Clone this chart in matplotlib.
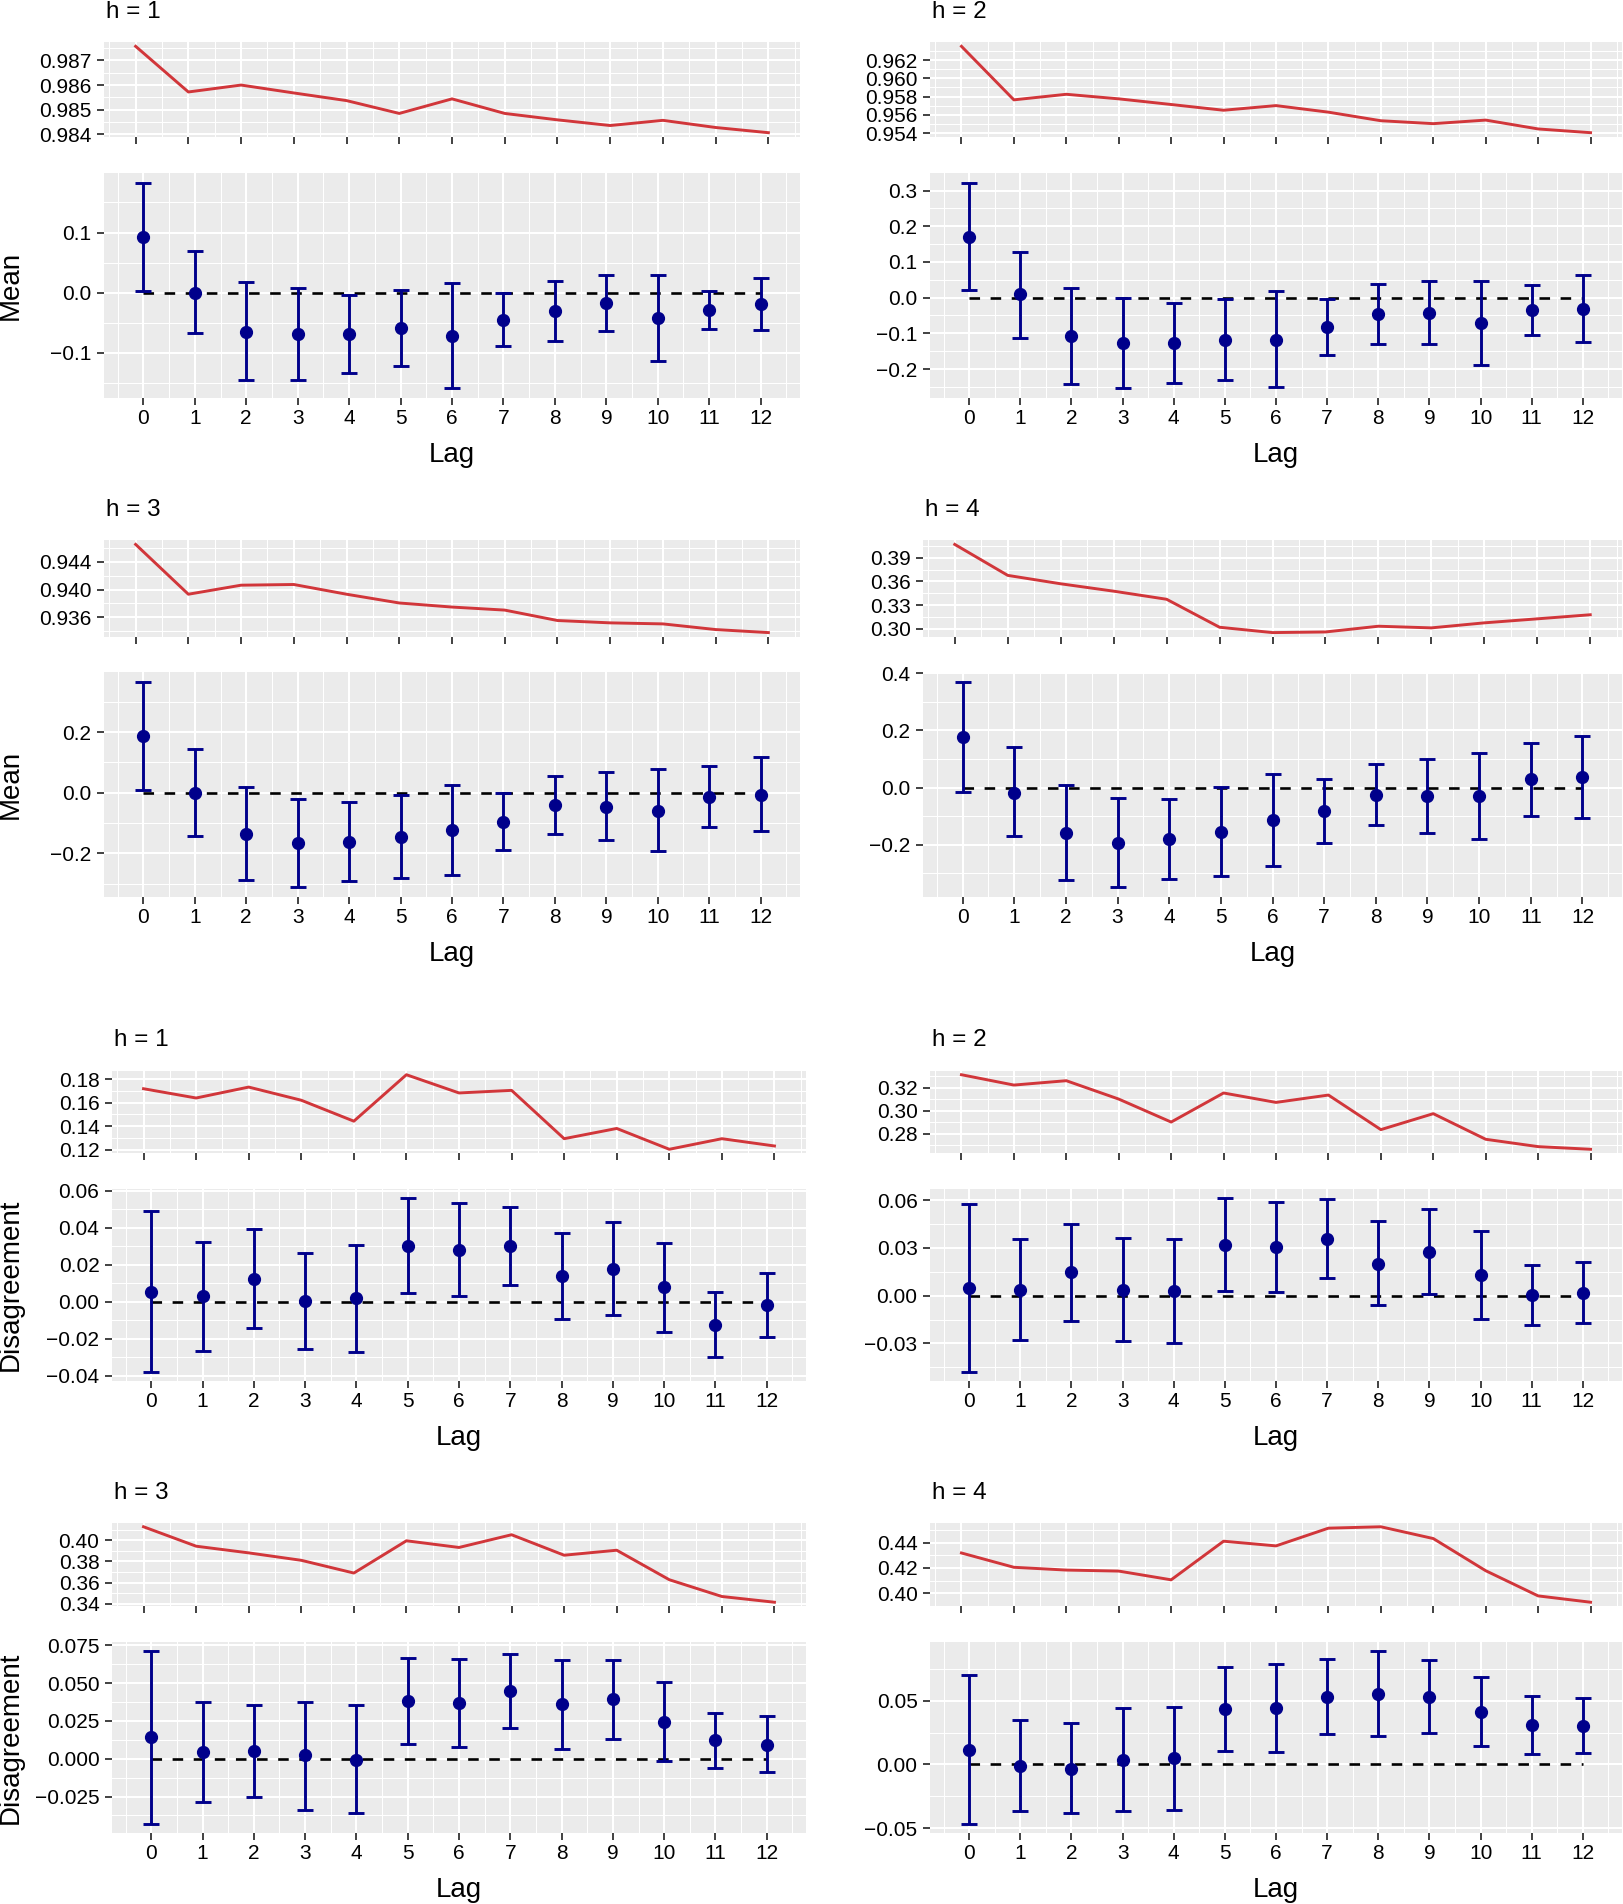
import numpy as np
import matplotlib
matplotlib.use("Agg")
import matplotlib.pyplot as plt
from matplotlib.ticker import MultipleLocator, FuncFormatter

plt.rcParams['font.family'] = ['Liberation Sans', 'DejaVu Sans']

# ---------------- data ----------------
lags = list(range(13))

# Mean, h = 1
mean_h1_top = [0.98757, 0.98572, 0.98600, 0.98568, 0.98537, 0.98485, 0.98544,
               0.98485, 0.98459, 0.98436, 0.98457, 0.98428, 0.98407]
mean_h1_est = [0.0928, 0.0, -0.065, -0.0694, -0.0694, -0.0589, -0.0722,
               -0.045, -0.0311, -0.0178, -0.0422, -0.0283, -0.0189]
mean_h1_lo = [0.0028, -0.0678, -0.146, -0.146, -0.1333, -0.1222, -0.1583,
              -0.0889, -0.0806, -0.0633, -0.1133, -0.06, -0.0617]
mean_h1_hi = [0.1820, 0.0689, 0.0178, 0.0083, -0.0039, 0.005, 0.0156,
              0.0, 0.0194, 0.0289, 0.0294, 0.0033, 0.0244]

# Mean, h = 2
mean_h2_top = [0.96351, 0.95764, 0.95825, 0.95775, 0.95713, 0.95650, 0.95701,
               0.95629, 0.95535, 0.95503, 0.95542, 0.95445, 0.95404]
mean_h2_est = [0.1696, 0.0093, -0.1081, -0.1267, -0.1267, -0.1174, -0.1174,
               -0.0829, -0.0457, -0.0429, -0.0708, -0.0354, -0.0317]
mean_h2_lo = [0.0205, -0.1128, -0.2432, -0.2525, -0.2404, -0.2311, -0.2507,
              -0.1594, -0.1295, -0.1295, -0.1873, -0.1053, -0.1249]
mean_h2_hi = [0.3206, 0.1277, 0.027, 0.0, -0.0149, -0.0028, 0.0196,
              -0.0037, 0.0382, 0.0457, 0.0457, 0.0354, 0.0634]

# Mean, h = 3
mean_h3_top = [0.94654, 0.93932, 0.94063, 0.94073, 0.93932, 0.93805, 0.93746,
               0.93702, 0.93551, 0.93517, 0.93502, 0.93420, 0.93376]
mean_h3_est = [0.1862, 0.0, -0.1366, -0.1675, -0.162, -0.1477, -0.1234,
               -0.0959, -0.0419, -0.0463, -0.0595, -0.0132, -0.0066]
mean_h3_lo = [0.0088, -0.1433, -0.2887, -0.3107, -0.292, -0.2832, -0.2733,
              -0.1895, -0.1377, -0.1565, -0.1928, -0.1146, -0.1278]
mean_h3_hi = [0.3647, 0.1433, 0.0198, -0.0209, -0.032, -0.0077, 0.0264,
              -0.0022, 0.0562, 0.0672, 0.0771, 0.0882, 0.1168]

# Mean, h = 4
mean_h4_top = [0.4071, 0.3677, 0.357, 0.3476, 0.3373, 0.3017, 0.2949,
               0.2957, 0.303, 0.3009, 0.3073, 0.3124, 0.3176]
mean_h4_est = [0.1762, -0.0175, -0.1575, -0.1925, -0.1797, -0.154, -0.1144,
               -0.0828, -0.0245, -0.0292, -0.028, 0.0292, 0.0385]
mean_h4_lo = [-0.0152, -0.1704, -0.3232, -0.3466, -0.3186, -0.308, -0.2742,
              -0.1949, -0.1307, -0.1587, -0.1797, -0.098, -0.105]
mean_h4_hi = [0.3685, 0.1424, 0.0093, -0.0362, -0.0397, 0.0012, 0.0467,
              0.0292, 0.0828, 0.0992, 0.1225, 0.1575, 0.1809]

# Disagreement, h = 1
dis_h1_top = [0.1718, 0.1639, 0.1732, 0.162, 0.1442, 0.1837, 0.1682,
              0.1704, 0.1293, 0.138, 0.1203, 0.1293, 0.1231]
dis_h1_est = [0.0052, 0.0031, 0.0124, 0.0004, 0.0018, 0.0303, 0.0281,
              0.0299, 0.0139, 0.0178, 0.0077, -0.0124, -0.0018]
dis_h1_lo = [-0.0382, -0.0265, -0.0141, -0.0256, -0.0272, 0.0045, 0.0032,
             0.009, -0.0092, -0.0074, -0.0164, -0.0299, -0.0189]
dis_h1_hi = [0.049, 0.0324, 0.0391, 0.0263, 0.0308, 0.0562, 0.0531,
             0.0512, 0.0371, 0.0432, 0.0319, 0.0052, 0.0155]

# Disagreement, h = 2
dis_h2_top = [0.3313, 0.3223, 0.3261, 0.3101, 0.2901, 0.3154, 0.3072,
              0.3136, 0.2835, 0.2974, 0.2751, 0.2687, 0.2664]
dis_h2_est = [0.0046, 0.0038, 0.0146, 0.0038, 0.0031, 0.0319, 0.0305,
              0.0355, 0.0201, 0.0274, 0.0128, 0.0002, 0.0019]
dis_h2_lo = [-0.0481, -0.028, -0.0157, -0.0282, -0.0297, 0.0027, 0.0025,
             0.0109, -0.0061, 0.001, -0.0144, -0.0186, -0.0169]
dis_h2_hi = [0.0575, 0.0357, 0.0449, 0.0362, 0.0355, 0.0615, 0.059,
             0.0606, 0.0468, 0.0542, 0.0403, 0.0194, 0.0211]

# Disagreement, h = 3
dis_h3_top = [0.4126, 0.3943, 0.388, 0.381, 0.369, 0.3994, 0.3931,
              0.4051, 0.3858, 0.3905, 0.3627, 0.3469, 0.3415]
dis_h3_est = [0.0143, 0.0044, 0.0053, 0.0022, -0.0007, 0.0384, 0.0368,
              0.045, 0.036, 0.0395, 0.0246, 0.0121, 0.0094]
dis_h3_lo = [-0.0434, -0.0285, -0.0254, -0.0336, -0.036, 0.0099, 0.0079,
             0.0202, 0.0066, 0.0132, -0.0013, -0.0064, -0.0088]
dis_h3_hi = [0.0715, 0.0377, 0.0357, 0.0375, 0.0355, 0.0667, 0.0662,
             0.0695, 0.0656, 0.0656, 0.0511, 0.0305, 0.0281]

# Disagreement, h = 4
dis_h4_top = [0.4318, 0.4205, 0.4183, 0.4175, 0.4106, 0.4411, 0.4374,
              0.4514, 0.4525, 0.4432, 0.4178, 0.3979, 0.3929]
dis_h4_est = [0.0114, -0.0016, -0.0034, 0.0036, 0.0047, 0.0435, 0.044,
              0.0531, 0.0552, 0.0528, 0.0412, 0.0306, 0.0303]
dis_h4_lo = [-0.0469, -0.0368, -0.0378, -0.0365, -0.036, 0.0104, 0.0096,
             0.0236, 0.022, 0.0244, 0.0145, 0.0083, 0.0088]
dis_h4_hi = [0.0697, 0.035, 0.0321, 0.044, 0.0453, 0.0764, 0.079,
             0.0829, 0.0891, 0.0816, 0.0684, 0.0534, 0.0521]

titles = ["h = 1", "h = 2", "h = 3", "h = 4", "h = 1", "h = 2", "h = 3", "h = 4"]
ylabels = ["Mean", "", "Mean", "", "Disagreement", "", "Disagreement", ""]
x_label = "Lag"

# ---------------- layout / style ----------------
W, H = 1623, 1904
DPI = 100
fig = plt.figure(figsize=(W / DPI, H / DPI), dpi=DPI)

BG = "#EBEBEB"
RED = "#D1363A"
BLUE = "#00008B"

def box(x0, y0, x1, y1):
    return [x0 / W, 1 - y1 / H, (x1 - x0) / W, (y1 - y0) / H]

def fmt(dec):
    def f(v, pos):
        s = f"{v:.{dec}f}"
        if float(s) == 0:
            s = f"{0.0:.{dec}f}"
        return s.replace("-", "\u2212")
    return FuncFormatter(f)

def style(ax, ystep, ydec):
    ax.set_facecolor(BG)
    for s in ax.spines.values():
        s.set_visible(False)
    ax.set_axisbelow(True)
    ax.xaxis.set_major_locator(MultipleLocator(1))
    ax.xaxis.set_minor_locator(MultipleLocator(0.5))
    ax.yaxis.set_major_locator(MultipleLocator(ystep))
    ax.yaxis.set_minor_locator(MultipleLocator(ystep / 2))
    ax.yaxis.set_major_formatter(fmt(ydec))
    ax.grid(which="major", color="white", lw=1.5)
    ax.grid(which="minor", color="white", lw=0.75)
    ax.tick_params(which="major", length=5, width=1.3, color="#333333",
                   labelsize=15, labelcolor="black")
    ax.tick_params(axis="y", which="major", pad=4)
    ax.tick_params(axis="x", which="major", pad=3)
    ax.tick_params(which="minor", length=0)

# rows: (title_y, top_y0, top_y1, bot_y0, bot_y1)
rows = [(12, 42, 137, 173, 398), (510, 540, 637, 672, 897),
        (1040, 1071, 1153, 1189, 1381), (1493, 1523, 1606, 1642, 1833)]
cols = [[(104, 800), (930, 1622)],
        [(104, 800), (923, 1622)],
        [(112, 806), (930, 1622)],
        [(112, 806), (930, 1622)]]

panel_data = [
    (mean_h1_top, mean_h1_est, mean_h1_lo, mean_h1_hi, 0.001, 3, 0.1, 1),
    (mean_h2_top, mean_h2_est, mean_h2_lo, mean_h2_hi, 0.002, 3, 0.1, 1),
    (mean_h3_top, mean_h3_est, mean_h3_lo, mean_h3_hi, 0.004, 3, 0.2, 1),
    (mean_h4_top, mean_h4_est, mean_h4_lo, mean_h4_hi, 0.03, 2, 0.2, 1),
    (dis_h1_top, dis_h1_est, dis_h1_lo, dis_h1_hi, 0.02, 2, 0.02, 2),
    (dis_h2_top, dis_h2_est, dis_h2_lo, dis_h2_hi, 0.02, 2, 0.03, 2),
    (dis_h3_top, dis_h3_est, dis_h3_lo, dis_h3_hi, 0.02, 2, 0.025, 3),
    (dis_h4_top, dis_h4_est, dis_h4_lo, dis_h4_hi, 0.02, 2, 0.05, 2),
]

cap_w = 0.3
for i, (top, est, lo, hi, tstep, tdec, bstep, bdec) in enumerate(panel_data):
    r, c = divmod(i, 2)
    ty, t0, t1, b0, b1 = rows[r]
    x0, x1 = cols[r][c]
    x = np.array(lags)

    # top panel: line
    axt = fig.add_axes(box(x0, t0, x1, t1))
    style(axt, tstep, tdec)
    axt.plot(x, top, color=RED, lw=2.1)
    axt.set_xlim(-0.6, 12.6)
    axt.margins(y=0.05)
    axt.tick_params(axis="x", labelbottom=False)

    # bottom panel: estimates with intervals
    axb = fig.add_axes(box(x0, b0, x1, b1))
    style(axb, bstep, bdec)
    est_a, lo_a, hi_a = np.array(est), np.array(lo), np.array(hi)
    axb.plot(x, np.zeros_like(x, dtype=float), color="black", lw=1.9,
             ls=(0, (4.0, 4.0)), zorder=2)
    axb.errorbar(x, est_a, yerr=[est_a - lo_a, hi_a - est_a], fmt="none",
                 ecolor=BLUE, elinewidth=2.1, capsize=5.6, capthick=2.1,
                 zorder=3)
    axb.plot(x, est_a, "o", color=BLUE, ms=8.5, zorder=4)
    span = 12 + cap_w
    pad = 0.05 * span
    axb.set_xlim(-cap_w / 2 - pad, 12 + cap_w / 2 + pad)
    axb.margins(y=0.05)
    axb.set_xlabel(x_label, fontsize=20)
    axb.xaxis.set_label_coords(0.5, -57 / (b1 - b0))
    axb.xaxis.label.set_va("center")
    if ylabels[i]:
        axb.set_ylabel(ylabels[i], fontsize=20)
        axb.yaxis.set_label_coords((11 - x0) / (x1 - x0), 0.5)
        axb.yaxis.label.set_va("center")

    fig.text((x0 + 2) / W, 1 - ty / H, titles[i], fontsize=17.5,
             ha="left", va="center")

fig.savefig("out.png", dpi=DPI, facecolor="white")
